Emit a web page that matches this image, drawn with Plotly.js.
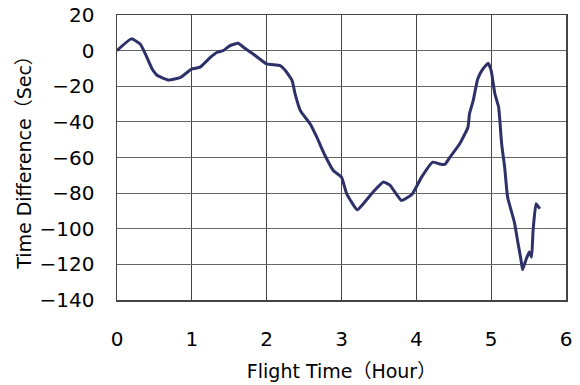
<!DOCTYPE html>
<html>
<head>
<meta charset="utf-8">
<script src="https://cdn.plot.ly/plotly-3.0.1.min.js"></script>
<style>html,body{margin:0;padding:0;background:#fff;}#chart{width:580px;height:385px;}</style>
</head>
<body>
<div id="chart"></div>
<script>
const flightTime = [0, 0.19, 0.31, 0.38, 0.47, 0.54, 0.69, 0.85, 1.0, 1.11, 1.25, 1.34, 1.42, 1.51, 1.62, 1.69, 1.82, 2.0, 2.18, 2.25, 2.34, 2.38, 2.45, 2.58, 2.67, 2.78, 2.89, 3.0, 3.07, 3.21, 3.31, 3.42, 3.56, 3.65, 3.80, 3.94, 4.07, 4.22, 4.31, 4.38, 4.45, 4.58, 4.69, 4.71, 4.76, 4.82, 4.89, 4.96, 5.0, 5.05, 5.10, 5.14, 5.18, 5.22, 5.31, 5.36, 5.40, 5.42, 5.47, 5.51, 5.54, 5.56, 5.60, 5.65];
const timeDiff = [0, 6.6, 3.7, -1.9, -10.3, -14, -16.5, -15, -10.3, -9.3, -3.7, -0.9, 0, 2.8, 4.1, 1.9, -1.9, -7.5, -8.4, -11.2, -16.8, -24.3, -33.7, -41.1, -48.6, -58.9, -67.3, -71, -80.4, -89.4, -85, -79.5, -73.8, -75.7, -84.1, -80.8, -71, -62.6, -63.6, -63.9, -59.8, -52.3, -43, -35.5, -28, -15.9, -10.3, -7.1, -11.2, -24.3, -31.8, -52.3, -65.4, -82.3, -96.3, -108.4, -117.8, -123, -116.8, -113.1, -115.9, -101, -86, -88.8];
const xTicks = [0, 1, 2, 3, 4, 5, 6];
const yTicks = [20, 0, -20, -40, -60, -80, -100, -120, -140];
const yTickText = ['20', '0', '\u221220', '\u221240', '\u221260', '\u221280', '\u2212100', '\u2212120', '\u2212140'];

const fam = '"DejaVu Sans", "Noto Sans CJK JP", sans-serif';
const tickFont = {family: fam, size: 20, color: '#000'};
const titleFont = {family: fam, size: 19, color: '#000'};

Plotly.newPlot('chart', [{
  x: flightTime, y: timeDiff, type: 'scatter', mode: 'lines',
  line: {color: '#2E3068', width: 3, shape: 'spline', smoothing: 0.4},
  hoverinfo: 'skip'
}], {
  width: 580, height: 385,
  margin: {l: 116.5, r: 13.5, t: 14.7, b: 85.3, pad: 0},
  paper_bgcolor: '#fff', plot_bgcolor: '#fff',
  showlegend: false,
  font: tickFont,
  xaxis: {
    range: [0, 6], tickvals: xTicks, ticktext: xTicks.map(String),
    showgrid: true, gridcolor: '#444', gridwidth: 1,
    showline: true, linecolor: '#444', linewidth: 1.5, mirror: true,
    zeroline: false, ticks: '', ticklabelstandoff: 20,
    tickfont: tickFont,
    title: {text: 'Flight Time（Hour）', font: titleFont, standoff: 15}
  },
  yaxis: {
    range: [-140, 20], tickvals: yTicks, ticktext: yTickText,
    showgrid: true, gridcolor: '#666', gridwidth: 1,
    showline: true, linecolor: '#444', linewidth: 1.5, mirror: true,
    zeroline: false, ticks: '', ticklabelstandoff: 17,
    tickfont: tickFont,
    title: {text: 'Time Difference（Sec）', font: titleFont, standoff: 3}
  }
}, {staticPlot: true, displayModeBar: false});
</script>
</body>
</html>
